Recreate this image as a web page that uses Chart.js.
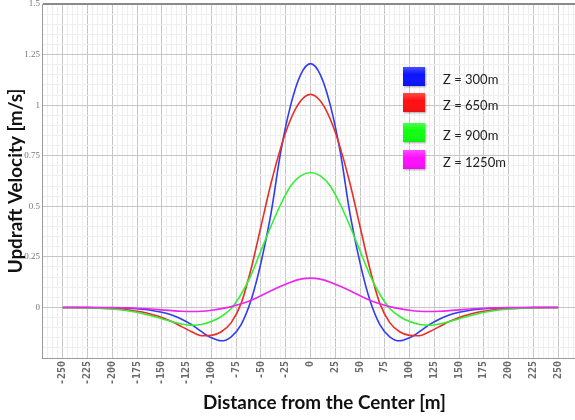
<!DOCTYPE html>
<html>
<head>
<meta charset="utf-8">
<script src="https://cdn.jsdelivr.net/npm/chart.js@4/dist/chart.umd.min.js"></script>
<style>
html,body{margin:0;padding:0;background:#fff;}
#wrap{width:575px;height:420px;position:relative;}
</style>
</head>
<body>
<div id="wrap"><canvas id="c" width="575" height="420"></canvas></div>
<script>
// ---- data ----
const distances = [-250,-225,-200,-180,-170,-160,-150,-140,-130,-120,-110,-100,-90,-80,-70,-60,-50,-40,-30,-20,-10,0,10,20,30,40,50,60,70,80,90,100,110,120,130,140,150,160,170,180,200,225,250];
const z300 = [0,0,-0.002,-0.005,-0.009,-0.015,-0.024,-0.038,-0.058,-0.085,-0.12,-0.15,-0.165,-0.145,-0.085,0.035,0.22,0.46,0.77,1.0,1.15,1.205,1.15,1.0,0.77,0.46,0.22,0.035,-0.085,-0.145,-0.165,-0.15,-0.12,-0.085,-0.058,-0.038,-0.024,-0.015,-0.009,-0.005,-0.002,0,0];
const z650 = [0,-0.001,-0.006,-0.015,-0.023,-0.035,-0.05,-0.07,-0.095,-0.12,-0.14,-0.138,-0.12,-0.075,0.02,0.19,0.40,0.61,0.79,0.93,1.02,1.053,1.02,0.93,0.79,0.61,0.40,0.19,0.02,-0.075,-0.12,-0.138,-0.14,-0.12,-0.095,-0.07,-0.05,-0.035,-0.023,-0.015,-0.006,-0.001,0];
const z900 = [0,-0.002,-0.008,-0.02,-0.03,-0.042,-0.056,-0.07,-0.082,-0.088,-0.084,-0.07,-0.045,-0.005,0.065,0.16,0.28,0.40,0.51,0.60,0.65,0.667,0.65,0.60,0.51,0.40,0.28,0.16,0.065,-0.005,-0.045,-0.07,-0.084,-0.088,-0.082,-0.07,-0.056,-0.042,-0.03,-0.02,-0.008,-0.002,0];
const z1250 = [0,0,-0.001,-0.003,-0.005,-0.008,-0.012,-0.016,-0.019,-0.02,-0.019,-0.014,-0.006,0.004,0.018,0.036,0.058,0.082,0.105,0.125,0.14,0.145,0.14,0.125,0.105,0.082,0.058,0.036,0.018,0.004,-0.006,-0.014,-0.019,-0.02,-0.019,-0.016,-0.012,-0.008,-0.005,-0.003,-0.001,0,0];
const seriesLabels = ['Z = 300m','Z = 650m','Z = 900m','Z = 1250m'];
const yTickLabels = ['0','0.25','0.5','0.75','1','1.25','1.5'];
const xTickLabels = ['-250','-225','-200','-175','-150','-125','-100','-75','-50','-25','0','25','50','75','100','125','150','175','200','225','250'];
const xTitle = 'Distance from the Center [m]';
const yTitle = 'Updraft Velocity [m/s]';

// ---- styling ----
const lineColors = ['#2f3cf0','#ea2d25','#35ee35','#ee25ee'];
const boxColors = ['#0a14ff','#ff1010','#10ff10','#ff10ff'];
const series = [z300, z650, z900, z1250];
const toPts = arr => distances.map((x, i) => ({x: x, y: arr[i]}));

const isMajorY = v => Math.abs(v / 0.25 - Math.round(v / 0.25)) < 1e-6;
const isMajorX = v => Math.abs(v / 25 - Math.round(v / 25)) < 1e-6;

const decor = {
  id: 'decor',
  afterDraw(chart) {
    const ctx = chart.ctx;
    const area = chart.chartArea;
    ctx.save();
    const fam = "Lato, 'Open Sans', 'DejaVu Sans', sans-serif";
    ctx.font = 'bold 18px ' + fam;
    const fs = 18 * 243 / ctx.measureText(xTitle).width;
    ctx.font = 'bold ' + fs.toFixed(2) + 'px ' + fam;
    ctx.fillStyle = '#111';
    ctx.textAlign = 'center';
    ctx.textBaseline = 'middle';
    ctx.fillText(xTitle, 324.5, 403);
    ctx.save();
    ctx.translate(16, (area.top + area.bottom) / 2);
    ctx.rotate(-Math.PI / 2);
    ctx.fillText(yTitle, 0, 0);
    ctx.restore();

    // legend
    const tops = [67, 93, 123, 150];
    ctx.font = "13px Lato, 'Open Sans', sans-serif";
    ctx.textAlign = 'left';
    chart.data.datasets.forEach((ds, i) => {
      const y = tops[i];
      ctx.save();
      ctx.shadowColor = 'rgba(0,0,0,0.35)';
      ctx.shadowBlur = 2;
      ctx.shadowOffsetX = 1;
      ctx.shadowOffsetY = 1;
      ctx.fillStyle = boxColors[i];
      ctx.fillRect(403, y, 22, 19);
      ctx.restore();
      const g = ctx.createLinearGradient(0, y, 0, y + 19);
      g.addColorStop(0, 'rgba(255,255,255,0.25)');
      g.addColorStop(0.4, 'rgba(255,255,255,0)');
      g.addColorStop(1, 'rgba(0,0,0,0.08)');
      ctx.fillStyle = g;
      ctx.fillRect(403, y, 22, 19);
      ctx.fillStyle = '#222';
      ctx.fillText(ds.label, 443, y + 13);
    });
    ctx.restore();
  }
};

Chart.defaults.font.family = "Lato, 'Open Sans', sans-serif";

new Chart(document.getElementById('c'), {
  type: 'line',
  data: {
    datasets: series.map((arr, i) => ({
      label: seriesLabels[i],
      data: toPts(arr),
      borderColor: lineColors[i],
      backgroundColor: lineColors[i],
      borderWidth: 1.6,
      pointRadius: 0,
      fill: false,
      cubicInterpolationMode: 'monotone',
      order: 4 - i
    }))
  },
  options: {
    responsive: false,
    animation: false,
    devicePixelRatio: 1,
    layout: {padding: {top: 4, left: 0, right: 0, bottom: 0}},
    plugins: {legend: {display: false}, tooltip: {enabled: false}, title: {display: false}},
    scales: {
      x: {
        type: 'linear',
        min: -271,
        max: 267,
        afterFit(s) { s.height = 62; s.paddingLeft = 0; s.paddingRight = 0; },
        border: {display: true, color: '#9a9a9a', width: 1},
        grid: {
          drawTicks: false,
          color: c => (c.tick && isMajorX(c.tick.value)) ? '#c6c6c6' : '#efefef',
          lineWidth: 1
        },
        ticks: {
          stepSize: 5,
          includeBounds: false,
          autoSkip: false,
          minRotation: 90,
          maxRotation: 90,
          padding: 3,
          color: '#6a6a6a',
          font: {family: "'DejaVu Sans Mono', monospace", size: 10, weight: 'bold'},
          callback: v => {
            const idx = xTickLabels.indexOf(String(Math.round(v)));
            return (isMajorX(v) && idx >= 0) ? xTickLabels[idx] : '';
          }
        }
      },
      y: {
        min: -0.25,
        max: 1.5,
        afterFit(s) { s.width = 42; s.paddingTop = 0; s.paddingBottom = 0; },
        border: {display: true, color: '#9a9a9a', width: 1},
        grid: {
          drawTicks: false,
          color: c => {
            if (!c.tick) return '#efefef';
            if (Math.abs(c.tick.value - 1.5) < 1e-6) return '#8a8a8a';
            return isMajorY(c.tick.value) ? '#c6c6c6' : '#efefef';
          },
          lineWidth: c => (c.tick && Math.abs(c.tick.value - 1.5) < 1e-6) ? 2 : 1
        },
        ticks: {
          stepSize: 0.05,
          autoSkip: false,
          padding: 2,
          color: '#777',
          font: {family: "'Liberation Serif', serif", size: 9},
          callback: v => {
            if (!isMajorY(v)) return '';
            const s = String(Math.round(v * 100) / 100);
            return yTickLabels.indexOf(s) >= 0 ? s : '';
          }
        }
      }
    }
  },
  plugins: [decor]
});
</script>
</body>
</html>
